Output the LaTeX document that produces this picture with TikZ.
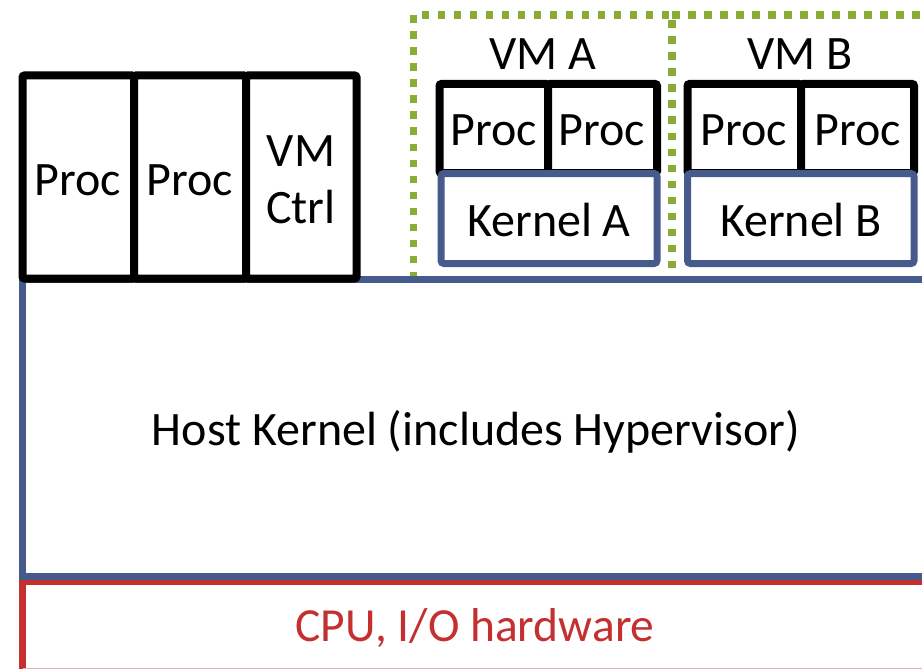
\documentclass[tikz,border=0pt]{standalone}
\usepackage{fontspec}
\setmainfont{Carlito}
\definecolor{kblue}{RGB}{70,90,140}
\definecolor{vgreen}{RGB}{138,172,55}
\definecolor{hwred}{RGB}{196,48,48}
\tikzset{
  procbox/.style={draw=black,line width=8pt,rounded corners=2pt,fill=white},
  kernbox/.style={draw=kblue,line width=7pt,rounded corners=3pt,fill=white},
  vmbox/.style={draw=vgreen,line width=7.5pt,dash pattern=on 7.5pt off 8.5pt},
  lbl/.style={font=\fontsize{48}{57}\selectfont,text=black,align=center,inner sep=0pt}
}
\begin{document}
\begin{tikzpicture}[x=1pt,y=-1pt]
\useasboundingbox (0,0) rectangle (922,669);
\clip (0,0) rectangle (922,669);
% VM containers (green dotted)
\draw[vmbox] (413.5,279) -- (413.5,15) -- (672,15) -- (672,279);
\draw[vmbox] (672,15) -- (960,15);
% hardware
\draw[draw=hwred,line width=6.5pt] (22.5,700) -- (22.5,582) -- (960,582);
\draw[draw=hwred!40,line width=6pt] (22.5,671) -- (960,671);
\node[lbl,text=hwred,font=\fontsize{47.5}{50}\selectfont] (hw) at (475,628) {CPU, I/O hardware};
% host kernel
\draw[draw=kblue,line width=7pt] (960,279) -- (22.5,279) -- (22.5,576) -- (960,576);
\node[lbl] (host) at (476,432) {Host Kernel (includes Hypervisor)};
% host processes
\draw[procbox] (22.5,75.5) rectangle (134,278.5);
\draw[procbox] (134,75.5) rectangle (246,278.5);
\draw[procbox] (246,75.5) rectangle (356.5,278.5);
\node[lbl] (p1) at (78,180) {Proc};
\node[lbl] (p2) at (190,180) {Proc};
\node[lbl] (ctrl) at (301,180) {VM\\Ctrl};
% VM A
\node[lbl] (vma) at (543,54) {VM A};
\draw[procbox] (439.5,84) rectangle (548,173);
\draw[procbox] (548,84) rectangle (657,173);
\node[lbl] (pa1) at (494,130) {Proc};
\node[lbl] (pa2) at (602,130) {Proc};
\draw[kernbox] (441,173.5) rectangle (657,263.5);
\node[lbl] (ka) at (549,220) {Kernel A};
% VM B
\node[lbl] (vmb) at (800,54) {VM B};
\draw[procbox] (687.5,84) rectangle (801,173);
\draw[procbox] (801,84) rectangle (914,173);
\node[lbl] (pb1) at (744,130) {Proc};
\node[lbl] (pb2) at (858,130) {Proc};
\draw[kernbox] (687.5,173.5) rectangle (914,263.5);
\node[lbl] (kb) at (801,220) {Kernel B};
\end{tikzpicture}
\end{document}
